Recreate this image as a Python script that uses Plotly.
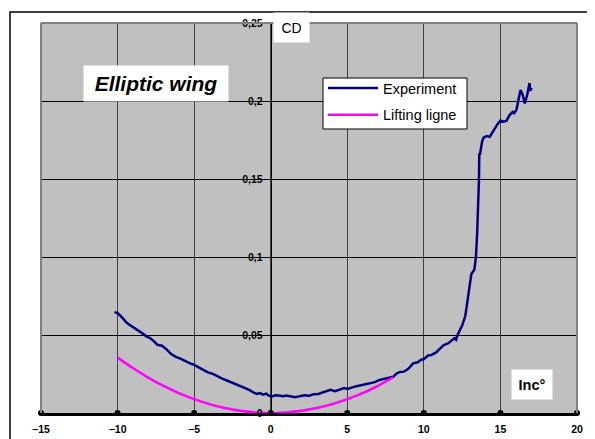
import plotly.graph_objects as go

# ---- data ----
exp_inc = [-10.2, -10.0, -9.8, -9.6, -9.4, -9.2, -9.0, -8.7, -8.4, -8.1, -7.9, -7.6, -7.4, -7.1,
           -6.8, -6.5, -6.2, -5.9, -5.6, -5.3, -5.0, -4.7, -4.4, -4.1, -3.8, -3.5, -3.2, -2.9,
           -2.6, -2.3, -2.0, -1.7, -1.4, -1.1, -0.9, -0.7, -0.5, -0.3, -0.1, 0.1, 0.3, 0.5,
           0.8, 1.0, 1.3, 1.6, 1.9, 2.2, 2.5, 2.8, 3.1, 3.4, 3.7, 3.9, 4.2, 4.5, 4.8, 5.0,
           5.3, 5.6, 5.9, 6.2, 6.5, 6.8, 7.1, 7.4, 7.7, 8.0, 8.2, 8.4, 8.7, 9.0, 9.3, 9.6,
           9.8, 10.0, 10.3, 10.5, 10.8, 11.0, 11.3, 11.6, 11.9, 12.0, 12.1, 12.2, 12.5, 12.7,
           12.8, 12.95, 13.1, 13.3, 13.4, 13.48, 13.55, 13.6, 13.62, 13.66, 13.72, 13.8, 13.9,
           14.1, 14.3, 14.5, 14.8, 15.0, 15.2, 15.4, 15.6, 15.8, 15.9, 16.05, 16.2, 16.31,
           16.45, 16.59, 16.75, 16.9, 16.95, 17.03]
exp_cd = [0.0647, 0.0640, 0.0622, 0.0600, 0.0578, 0.0564, 0.0552, 0.0535, 0.0512, 0.0490, 0.0482,
          0.0458, 0.0437, 0.0431, 0.0408, 0.0378, 0.0360, 0.0349, 0.0333, 0.0320, 0.0308, 0.0292,
          0.0278, 0.0260, 0.0252, 0.0236, 0.0222, 0.0210, 0.0197, 0.0188, 0.0170, 0.0160, 0.0148,
          0.0130, 0.0122, 0.0128, 0.0118, 0.0124, 0.0110, 0.0106, 0.0114, 0.0112, 0.0108, 0.0112,
          0.0106, 0.0101, 0.0108, 0.0113, 0.0110, 0.0120, 0.0122, 0.0130, 0.0138, 0.0148, 0.0140,
          0.0150, 0.0160, 0.0154, 0.0165, 0.0172, 0.0178, 0.0184, 0.0194, 0.0198, 0.0212, 0.0218,
          0.0224, 0.0232, 0.0252, 0.0262, 0.0265, 0.0285, 0.0318, 0.0325, 0.0340, 0.0346, 0.0370,
          0.0372, 0.0388, 0.0410, 0.0436, 0.0448, 0.0468, 0.0480, 0.0470, 0.0500, 0.0560, 0.0620,
          0.0685, 0.0780, 0.0890, 0.0920, 0.1000, 0.1150, 0.1300, 0.1500, 0.1665, 0.1655, 0.1690,
          0.1740, 0.1765, 0.1775, 0.1770, 0.1805, 0.1850, 0.1875, 0.1868, 0.1874, 0.1910, 0.1930,
          0.1922, 0.1945, 0.2010, 0.2070, 0.2040, 0.1985, 0.2040, 0.2115, 0.2065, 0.2085]

ll_inc = [-10, -9, -8, -7, -6, -5, -4, -3, -2, -1, 0, 1, 2, 3, 4, 5, 6, 7, 8]
ll_cd = [0.0355, 0.0288, 0.0227, 0.0174, 0.0128, 0.0089, 0.0057, 0.0032, 0.0014, 0.0004, 0.0,
         0.0004, 0.0014, 0.0032, 0.0057, 0.0089, 0.0128, 0.0174, 0.0229]

x_ticks = [-15, -10, -5, 0, 5, 10, 15, 20]
y_ticks = [0, 0.05, 0.1, 0.15, 0.2, 0.25]
y_tick_labels = ["0", "0,05", "0,1", "0,15", "0,2", "0,25"]

FONT = "Liberation Sans, Arial, sans-serif"

# the page body adds an 8px offset; the figure is sized so that it fills the window
W, H = 587, 431
PL, PR, PT, PB = 41, 577, 23, 413   # plot area in window pixels


def px(xp):
    return (xp - PL) / (PR - PL)


def py(yp):
    return (PB - yp) / (PB - PT)


fig = go.Figure()
fig.add_trace(go.Scatter(x=exp_inc, y=exp_cd, mode="lines", name="Experiment",
                         legendgroup="a", line=dict(color="#000080", width=2.5)))
fig.add_trace(go.Scatter(x=ll_inc, y=ll_cd, mode="lines", name="Lifting ligne",
                         legendgroup="b", line=dict(color="#FF00FF", width=2.5, shape="spline")))
# round tick dots on the x axis
fig.add_trace(go.Scatter(x=x_ticks, y=[0] * len(x_ticks), mode="markers", showlegend=False,
                         marker=dict(color="black", size=6), cliponaxis=False, hoverinfo="skip"))

xmin, xmax = -15, 20
fig.update_layout(
    width=W, height=H,
    margin=dict(l=PL - 8, r=W - (PR - 8), t=PT - 8, b=H - (PB - 8), pad=0),
    paper_bgcolor="white", plot_bgcolor="#C0C0C0",
    font=dict(family=FONT, color="black"),
    xaxis=dict(range=[xmin, xmax], tickvals=x_ticks, showgrid=True, gridcolor="#404040",
               gridwidth=1, zeroline=False, showline=True, linecolor="black", linewidth=3,
               ticks="", automargin=False, ticklabelstandoff=4,
               tickfont=dict(size=10.5, family=FONT, weight="bold")),
    yaxis=dict(range=[0, 0.25], tickvals=y_ticks, ticktext=y_tick_labels, showgrid=True,
               gridcolor="black", gridwidth=1, zeroline=False, showline=True, linecolor="black",
               linewidth=1, ticks="outside", ticklen=4, tickcolor="black", automargin=False,
               anchor="free", position=(0 - xmin) / (xmax - xmin), ticklabelstandoff=2,
               tickfont=dict(size=10.5, family=FONT, weight="bold")),
    legend=dict(x=px(323), y=py(72), xanchor="left", yanchor="top",
                bgcolor="rgba(0,0,0,0)", borderwidth=0,
                font=dict(size=14.5, family=FONT), itemwidth=50, tracegroupgap=5),
    showlegend=True,
)

# gray plot-area frame (left, top, right) and outer black frame
for x0, y0, x1, y1 in [(0, 0, 0, 1), (0, 1, 1, 1), (1, 0, 1, 1)]:
    fig.add_shape(type="line", xref="paper", yref="paper", x0=x0, y0=y0, x1=x1, y1=y1,
                  line=dict(color="#808080", width=2), layer="above")
fig.add_shape(type="rect", xref="paper", yref="paper",
              x0=px(10), y0=py(450), x1=px(610), y1=py(12),
              line=dict(color="black", width=1.5), layer="below")
# legend box
fig.add_shape(type="rect", xref="paper", yref="paper",
              x0=px(323), y0=py(129), x1=px(467), y1=py(78),
              fillcolor="white", line=dict(color="black", width=1), layer="above")

fig.add_annotation(xref="paper", yref="paper", x=px(156), y=py(83),
                   xanchor="center", yanchor="middle",
                   text="<b><i>Elliptic wing</i></b>", showarrow=False, bgcolor="white",
                   width=142, height=33, font=dict(size=21, family=FONT))
fig.add_annotation(xref="paper", yref="paper", x=px(291.5), y=py(27.7),
                   xanchor="center", yanchor="middle",
                   text="CD", showarrow=False, bgcolor="white", width=33, height=27,
                   font=dict(size=14, family=FONT))
fig.add_annotation(xref="paper", yref="paper", x=px(532), y=py(384.5),
                   xanchor="center", yanchor="middle",
                   text="<b>Inc°</b>", showarrow=False, bgcolor="white", width=38, height=27,
                   font=dict(size=14.5, family=FONT))

fig.write_html("out.html")
